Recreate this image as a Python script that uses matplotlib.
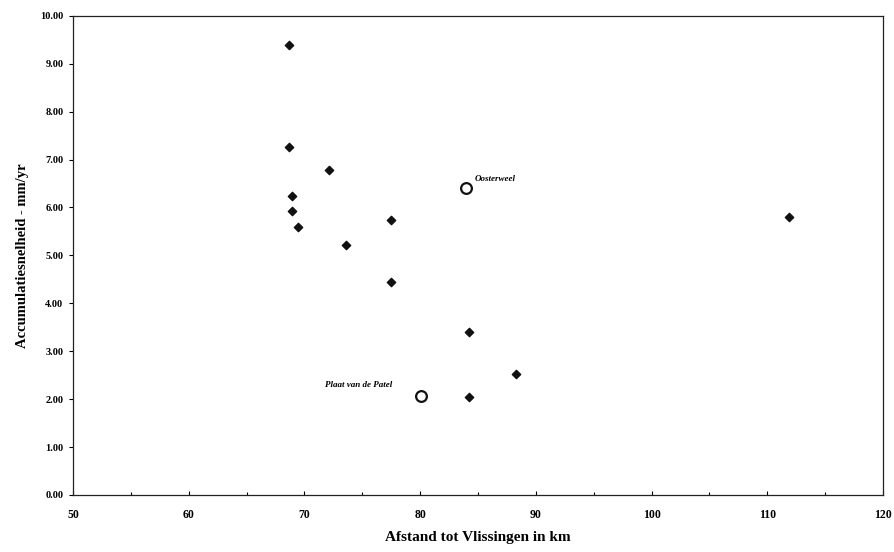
import matplotlib.pyplot as plt
from matplotlib.ticker import FormatStrFormatter, MultipleLocator

# measured stations (filled diamonds)
afstand = [68.7, 68.7, 72.1, 68.9, 68.9, 69.4, 77.5, 73.6, 77.5, 84.2, 88.3, 84.2, 111.9]
accumulatie = [9.39, 7.27, 6.78, 6.24, 5.93, 5.60, 5.74, 5.22, 4.45, 3.40, 2.53, 2.05, 5.80]

# named marshes (open circles)
namen = ["Oosterweel", "Plaat van de Patel"]
namen_afstand = [84.0, 80.1]
namen_accumulatie = [6.41, 2.07]

plt.rcParams['font.family'] = ['Liberation Serif', 'DejaVu Serif']

fig = plt.figure(figsize=(8.94, 5.52), dpi=100)
ax = fig.add_axes([0.0817, 0.1033, 0.906, 0.868])

ax.scatter(afstand, accumulatie, marker='D', s=18, color='#111111', zorder=3)
ax.scatter(namen_afstand, namen_accumulatie, marker='o', s=60, facecolors='white',
           edgecolors='#111111', linewidths=1.6, zorder=3)

# labels next to the open circles
ax.annotate(namen[0], (namen_afstand[0], namen_accumulatie[0]), xytext=(6, 5),
            textcoords='offset points', fontsize=6.5, fontweight='bold', style='italic')
ax.annotate(namen[1], (namen_afstand[1], namen_accumulatie[1]), xytext=(-69, 6),
            textcoords='offset points', fontsize=6.5, fontweight='bold', style='italic')

ax.set_xlim(50, 120)
ax.set_ylim(0, 10)
ax.xaxis.set_major_locator(MultipleLocator(10))
ax.xaxis.set_minor_locator(MultipleLocator(5))
ax.yaxis.set_major_locator(MultipleLocator(1))
ax.yaxis.set_major_formatter(FormatStrFormatter('%.2f'))

ax.tick_params(axis='x', which='both', direction='in', labelsize=8.5, pad=10,
               width=0.8, length=3)
ax.tick_params(axis='x', which='minor', length=2)
ax.tick_params(axis='y', direction='out', labelsize=7.5, width=0.8, length=3, pad=4)
for lbl in ax.get_xticklabels() + ax.get_yticklabels():
    lbl.set_fontweight('bold')

for side in ax.spines.values():
    side.set_linewidth(0.9)
    side.set_color('#222222')

ax.set_xlabel('Afstand tot Vlissingen in km', fontsize=11, fontweight='bold', labelpad=7)
ax.set_ylabel('Accumulatiesnelheid - mm/yr', fontsize=10.5, fontweight='bold', labelpad=8)

fig.savefig('out.png', dpi=100, facecolor='white')
